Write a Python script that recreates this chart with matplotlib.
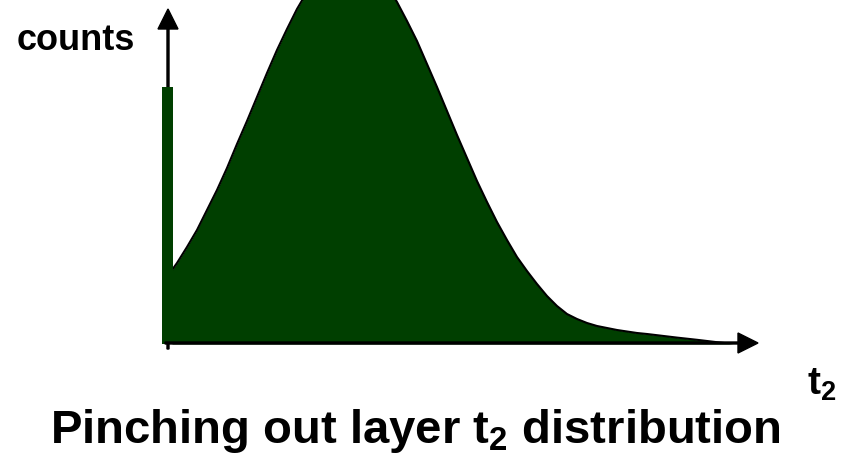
import numpy as np
import matplotlib
matplotlib.use("Agg")
import matplotlib.pyplot as plt

# sketch of a t2 distribution: spike at t2 = 0 plus a broad hump with a long tail
t2 = [0.5, 1, 2, 3, 4, 5, 6, 7, 8, 9, 10, 11, 12, 13, 14, 15, 16, 17, 18, 19,
      20, 21, 22, 23, 24, 25, 26, 27, 28, 29, 30, 31, 32, 33, 34, 35, 36, 37,
      38, 39, 40, 41, 42, 43, 44, 45, 46, 47, 48, 49, 50, 51, 52, 53, 54, 55,
      56, 56.6]
counts = [7.4, 8.1, 9.7, 11.4, 13.4, 15.4, 17.6, 20.0, 22.3, 24.7, 27.1, 29.4,
          31.5, 33.5, 35.2, 36.6, 37.6, 38.3, 38.6, 38.5, 37.9, 37.0, 35.8, 34.2,
          32.3, 30.3, 28.0, 25.7, 23.3, 20.9, 18.6, 16.3, 14.2, 12.2, 10.4, 8.7,
          7.3, 6.0, 4.8, 3.8, 3.0, 2.5, 2.1, 1.8, 1.6, 1.4, 1.25, 1.1, 1.0, 0.88,
          0.76, 0.64, 0.53, 0.42, 0.3, 0.18, 0.07, 0.0]
spike_t2 = 0.0
spike_counts = 25.7

green = "#003f00"

plt.rcParams['font.family'] = ['Liberation Sans', 'DejaVu Sans']
plt.rcParams['mathtext.fontset'] = 'custom'
plt.rcParams['mathtext.rm'] = 'Liberation Sans'
plt.rcParams['mathtext.bf'] = 'Liberation Sans:bold'

W, H = 854, 456
fig = plt.figure(figsize=(W / 100, H / 100), dpi=100)

# axes placed so that one data unit is 10 px each way, origin at (167, 345) px
ax = fig.add_axes([157 / W, 111 / H, 697 / W, 345 / H])
ax.set_xlim(-1.0, 68.7)
ax.set_ylim(0, 34.5)
ax.axis('off')

# axis arrows
ax.arrow(0.1, -0.5, 0, 34.0, width=0.2, head_width=2.0, head_length=2.0,
         length_includes_head=True, color='black', zorder=1, clip_on=False)
ax.arrow(-0.2, 0.1, 59.3, 0, width=0.2, head_width=2.0, head_length=2.0,
         length_includes_head=True, color='black', zorder=4, clip_on=False)

# hump
ax.fill_between(t2, counts, 0, color=green, linewidth=0, zorder=2)
ax.plot(t2, counts, color='black', linewidth=1.5, zorder=3)

# spike at zero
ax.bar([spike_t2], [spike_counts], width=1.1, color=green, linewidth=0, zorder=3)

fig.text(17 / W, 1 - 50 / H, 'counts', fontsize=26, fontweight='bold',
         ha='left', va='baseline')
fig.text(807 / W, 1 - 395 / H, r'$\mathbf{t}_{\mathbf{2}}$', fontsize=28,
         ha='left', va='baseline')
fig.text(415 / W, 1 - 443 / H, r'Pinching out layer $\mathbf{t}_{\mathbf{2}}$ distribution',
         fontsize=34, fontweight='bold', ha='center', va='baseline')

fig.savefig('out.png', dpi=100)
